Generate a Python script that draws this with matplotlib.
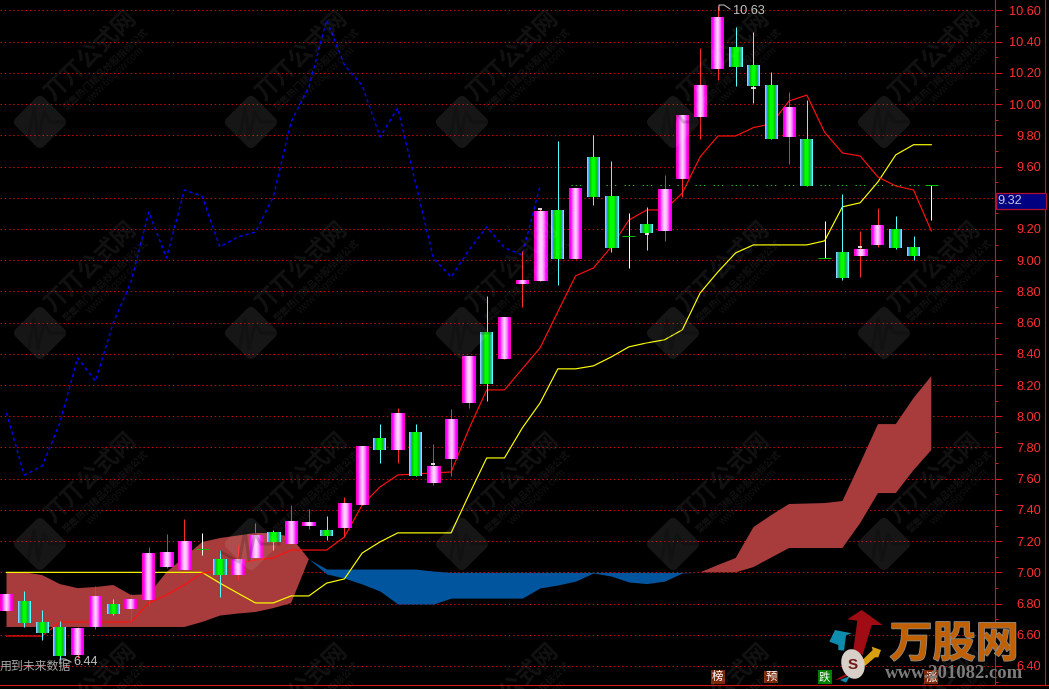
import numpy as np
import matplotlib
matplotlib.use('Agg')
import matplotlib.pyplot as plt
import matplotlib.patches as mpatches
import matplotlib.patheffects as pe
from matplotlib.colors import to_rgb
from matplotlib.ticker import MultipleLocator, FixedLocator
from matplotlib.transforms import Affine2D

# candles
body_top = [6.861, 6.816, 6.682, 6.650, 6.638, 6.848, 6.797, 6.829, 7.117, 7.130, 7.200, 7.147, 7.080, 7.080,
            7.233, 7.253, 7.322, 7.322, 7.270, 7.438, 7.808, 7.860, 8.020, 7.900, 7.680, 7.980, 8.380, 8.540,
            8.630, 8.870, 9.315, 9.320, 9.460, 9.655, 9.410, 9.155, 9.230, 9.455, 9.925, 10.120, 10.552,
            10.365, 10.245, 10.120, 9.980, 9.775, 9.015, 9.050, 9.070, 9.225, 9.200, 9.085, 9.485]
body_bot = [6.754, 6.677, 6.613, 6.466, 6.470, 6.651, 6.733, 6.765, 6.822, 7.034, 7.015, 7.147, 6.983, 6.983,
            7.090, 7.195, 7.180, 7.297, 7.233, 7.284, 7.430, 7.784, 7.784, 7.620, 7.575, 7.726, 8.085, 8.210,
            8.366, 8.845, 8.870, 9.007, 9.007, 9.405, 9.080, 9.155, 9.175, 9.190, 9.520, 9.917, 10.225,
            10.240, 10.115, 9.775, 9.790, 9.475, 9.015, 8.885, 9.030, 9.100, 9.080, 9.030, 9.485]
high = [6.861, 6.880, 6.758, 6.688, 6.652, 6.912, 6.830, 6.861, 7.160, 7.245, 7.340, 7.250, 7.143, 7.175,
        7.316, 7.270, 7.433, 7.405, 7.360, 7.483, 7.808, 7.950, 8.050, 7.950, 7.820, 8.045, 8.380, 8.770,
        8.630, 9.060, 9.330, 9.765, 9.460, 9.800, 9.635, 9.300, 9.340, 9.545, 9.925, 10.360, 10.630,
        10.495, 10.465, 10.205, 10.080, 10.025, 9.250, 9.425, 9.190, 9.335, 9.285, 9.155, 9.485]
low = [6.754, 6.651, 6.568, 6.440, 6.450, 6.639, 6.727, 6.688, 6.790, 7.030, 7.015, 7.110, 6.844, 6.957,
       7.090, 7.143, 7.180, 7.278, 7.207, 7.227, 7.430, 7.700, 7.700, 7.620, 7.560, 7.620, 8.050, 8.100,
       8.366, 8.700, 8.870, 8.840, 9.007, 9.355, 9.055, 8.950, 9.065, 9.125, 9.405, 9.775, 10.155,
       10.115, 10.005, 9.775, 9.615, 9.475, 9.015, 8.875, 8.890, 9.085, 9.070, 9.000, 9.255]
# 1 up (pink), -1 down (green), 0 doji
kind = [1, -1, -1, -1, 1, 1, -1, 1, 1, 1, 1, 0, -1, 1, 1, -1, 1, 1, -1, 1, 1, -1, 1, -1, 1, 1, 1, -1,
        1, 1, 1, -1, 1, -1, -1, 0, -1, 1, 1, 1, 1, -1, -1, -1, 1, -1, 0, -1, 1, 1, -1, -1, 0]

red_line = [6.592, 6.592, 6.592, 6.682, 6.682, 6.682, 6.682, 6.682, 6.804, 6.855, 6.920, 6.996, 7.008, 7.060,
            7.079, 7.092, 7.143, 7.143, 7.143, 7.227, 7.432, 7.547, 7.624, 7.630, 7.637, 7.643, 7.919, 8.169,
            8.169, 8.304, 8.438, 8.670, 8.900, 8.950, 9.085, 9.258, 9.322, 9.322, 9.431, 9.662, 9.796,
            9.796, 9.850, 9.873, 10.020, 10.058, 9.820, 9.687, 9.668, 9.533, 9.476, 9.450, 9.187]
yellow_line = [7.0, 7.0, 7.0, 7.0, 7.0, 7.0, 7.0, 7.0, 7.0, 7.0, 7.0, 7.0, 6.931, 6.867, 6.804, 6.804, 6.849,
               6.849, 6.931, 6.958, 7.124, 7.195, 7.253, 7.253, 7.253, 7.253, 7.496, 7.733, 7.733, 7.925,
               8.085, 8.304, 8.304, 8.323, 8.380, 8.445, 8.470, 8.490, 8.554, 8.790, 8.925, 9.047, 9.098,
               9.098, 9.098, 9.098, 9.124, 9.342, 9.368, 9.502, 9.675, 9.740, 9.740]
blue_line = [8.021, 7.623, 7.681, 7.957, 8.374, 8.226, 8.598, 8.860, 9.309, 9.014, 9.450, 9.410, 9.085, 9.149,
             9.180, 9.405, 9.886, 10.110, 10.540, 10.250, 10.120, 9.790, 9.975, 9.495, 9.014, 8.892, 9.065,
             9.213, 9.080, 9.034, 9.476]
span_a = [7.0, 7.0, 6.983, 6.925, 6.899, 6.906, 6.919, 6.855, 6.861, 7.002, 7.098, 7.194, 7.220, 7.236, 7.252,
          7.252, 7.226, 7.085, 6.990, 6.963, 6.925, 6.880, 6.797, 6.797, 6.797, 6.835, 6.835, 6.835, 6.835,
          6.835, 6.900, 6.919, 6.944, 6.996, 6.976, 6.938, 6.928, 6.944, 6.996, 7.0, 7.047, 7.092, 7.290,
          7.367, 7.438, 7.441, 7.444, 7.457, 7.700, 7.950, 7.950, 8.117, 8.258]
span_b = [6.65, 6.65, 6.65, 6.65, 6.65, 6.65, 6.65, 6.65, 6.65, 6.65, 6.65, 6.682, 6.723, 6.736, 6.746, 6.771,
          6.803, 7.085, 7.021, 7.021, 7.021, 7.021, 7.021, 7.021, 7.008, 7.0, 7.0, 7.0, 7.0, 7.0, 7.0, 7.0,
          7.0, 7.0, 7.0, 7.0, 7.0, 7.0, 7.0, 7.0, 7.0, 7.0, 7.034, 7.095, 7.156, 7.156, 7.156, 7.156, 7.316,
          7.508, 7.508, 7.655, 7.784]

# small white caps on some candles
cap_idx = [24, 30, 36, 42, 48]
cap_val = [7.695, 9.330, 9.165, 10.105, 9.085]
ref_level = 9.48
ref_idx = list(range(32, 52))
signal_idx = [40, 43, 46, 52]
signal_txt = ['榜', '预', '跌', '涨']
signal_bg = ['#7A2808', '#7A2808', '#008000', '#7A2808']

W, H = 1049, 689
PINK = ['#FF00C0', '#FF00FF', '#FF20FF', '#FF60FF', '#FF90FF', '#FFB8FF', '#FFD0FF',
        '#FFB8FF', '#FF90FF', '#FF60FF', '#FF20FF', '#FF00FF', '#FF00C0']
GREEN = ['#7FD4FF', '#55AAFF', '#2BAA7F', '#00D000', '#00E800', '#00FF00', '#00FF00',
         '#00FF00', '#00E800', '#00D000', '#2BAA7F', '#55AAFF', '#55FFFF']
AXRED = '#D01818'
LABEL = '#FF3030'
CJK = ['Noto Sans CJK SC', 'DejaVu Sans']
LW = 0.72

plt.rcParams['font.family'] = ['Liberation Sans', 'DejaVu Sans']

fig = plt.figure(figsize=(W / 100, H / 100), dpi=100, facecolor='black')
ax = fig.add_axes([0, 4 / H, 995 / W, (H - 4) / H], facecolor='black')
idx = np.arange(len(kind))
idx_a = np.arange(len(span_a))
a = np.array(span_a)
b = np.array(span_b)

# price grid
for p in np.arange(6.4, 10.61, 0.2):
    ax.axhline(p, color='#D00000', lw=LW, ls=(0, (1.5, 2.7)), zorder=1)

# the cloud
ax.fill_between(idx_a, a, b, where=a >= b, color='#A83C3C', lw=0, zorder=2)
ax.fill_between(idx_a, a, b, where=a <= b, color='#00559F', lw=0, zorder=2)

# lines
ax.plot(np.arange(len(blue_line)), blue_line, color='#0000FF', lw=1.0, ls=(0, (2.4, 2.2)), zorder=3)
ax.plot(idx, yellow_line, color='#FFFF00', lw=0.85, zorder=5)
ax.plot(idx, red_line, color='#FF1010', lw=0.85, zorder=5)

# candles
pink_img = np.array([[to_rgb(c) for c in PINK]])
green_img = np.array([[to_rgb(c) for c in GREEN]])
w = 13 / 17.785
for i, k in enumerate(kind):
    if k == 0:
        ax.vlines(i, low[i], high[i], color='white', lw=LW, zorder=6)
        ax.hlines(body_top[i], i - w / 2, i + w / 2, color='#00C000', lw=LW, zorder=7)
        continue
    ax.vlines(i, low[i], high[i], color='#FF2828' if k > 0 else '#55FFFF', lw=LW, zorder=6)
    ax.imshow(pink_img if k > 0 else green_img, extent=(i - w / 2, i + w / 2, body_bot[i], body_top[i]),
              aspect='auto', interpolation='nearest', zorder=7)
for i, v in zip(cap_idx, cap_val):
    ax.hlines(v, i - 0.12, i + 0.12, color='white', lw=1.2, zorder=8)
ax.hlines([ref_level] * len(ref_idx), np.array(ref_idx) - 0.28, np.array(ref_idx) + 0.28,
          color='#20C020', lw=LW, ls=(0, (1.4, 2.8)), zorder=4)

ax.set_xlim(-6.5 / 17.785, (995 - 6.5) / 17.785)
ax.set_ylim(10.60 - 674.5 / 156.07, 10.60 + 10.5 / 156.07)
ax.set_aspect('auto')

# price axis on the right
ax.yaxis.tick_right()
ax.yaxis.set_major_locator(FixedLocator(np.arange(6.4, 10.61, 0.2)))
ax.yaxis.set_minor_locator(MultipleLocator(0.1))
ax.set_yticklabels(['%.2f' % p for p in np.arange(6.4, 10.61, 0.2)], ha='right', fontsize=9.2, color=LABEL)
ax.tick_params(axis='y', which='major', length=4.8, width=LW, color=AXRED, pad=28.5)
ax.tick_params(axis='y', which='minor', length=2.2, width=LW, color=AXRED)
ax.set_xticks([])
for s in ['left', 'top']:
    ax.spines[s].set_visible(False)
for s in ['right', 'bottom']:
    ax.spines[s].set_color(AXRED)
    ax.spines[s].set_linewidth(0.8)

# signal badges along the bottom
for i, txt, bg in zip(signal_idx, signal_txt, signal_bg):
    ax.text(i, 6.33, txt, family=CJK, fontsize=8.2, color='white', ha='center', va='center', zorder=9,
            bbox=dict(boxstyle='square,pad=0.12', fc=bg, ec='none'))

# overlay in pixel coordinates, for everything that is not price data
ov = fig.add_axes([0, 0, 1, 1], facecolor='none')
ov.set_xlim(0, W)
ov.set_ylim(H, 0)
ov.axis('off')

ov.plot([995, W], [685, 685], color=AXRED, lw=0.8)
ov.plot([1045, 1045], [0, 685], color=AXRED, lw=0.8)
ov.add_patch(mpatches.Rectangle((995.5, 193), 50, 16, fc='#000080', ec='#B01030', lw=0.9, zorder=6))
ov.text(997, 201.5, '9.32', color='#C8C8E0', fontsize=9.2, ha='left', va='center', zorder=7)

GREY = '#C4C4C4'
ov.text(733, 10.5, '10.63', color=GREY, fontsize=9.2, ha='left', va='center')
ov.plot([719, 719, 724, 730], [10, 5, 5, 9], color=GREY, lw=LW)
ov.text(73, 662, '6.44', color=GREY, fontsize=9.2, ha='left', va='center')
ov.plot([60, 60, 65, 71], [664, 659, 659, 662], color=GREY, lw=LW)
ov.text(0, 666, '用到未来数据', color='#A8A8A8', family=CJK, fontsize=8.6, ha='left', va='center')

# watermark grid
for cx in [40, 251, 462, 673, 884]:
    for cy in [122, 333, 544, 755]:
        tr = Affine2D().rotate_deg_around(cx, cy, 45) + ov.transData
        ov.add_patch(mpatches.FancyBboxPatch((cx - 20, cy - 20), 40, 40, boxstyle='round,pad=0,rounding_size=6',
                                             fc='white', ec='none', alpha=0.09, transform=tr, zorder=10))
        ov.plot(np.array([-30, -12, -6, -2, 4, 10, 28]) + cx, np.array([8, 18, -14, 16, -10, 0, 0]) + cy,
                color='black', alpha=0.18, lw=2.2, zorder=11)
        ov.text(cx + 50, cy - 67, '丌丌公式网', family=CJK, weight='bold', fontsize=17, color='white', alpha=0.075,
                rotation=44, ha='center', va='center', rotation_mode='anchor', zorder=10)
        ov.text(cx + 66, cy - 53, '聚集热门精品炒股指标公式', family=CJK, weight='bold', fontsize=6.8, color='white',
                alpha=0.075, rotation=44, ha='center', va='center', rotation_mode='anchor', zorder=10)
        ov.text(cx + 75, cy - 47, 'www.66gsw.com', fontsize=7.4, color='white', alpha=0.075,
                rotation=44, ha='center', va='center', rotation_mode='anchor', zorder=10)

# site logo, bottom right
def lz(points):
    return [(820 + x / 3, 600 + y / 3) for x, y in points]

ov.add_patch(mpatches.Polygon(lz([(125, 30), (188, 75), (155, 75), (128, 165), (100, 150), (112, 62), (82, 58)]),
                              fc='#A00C14', ec='none', zorder=12))
ov.add_patch(mpatches.Polygon(lz([(28, 125), (45, 90), (95, 100), (78, 106), (72, 152), (55, 150), (55, 135)]),
                              fc='#0E8CB0', ec='none', zorder=12))
ov.add_patch(mpatches.Polygon(lz([(183, 150), (155, 140), (158, 150), (122, 185), (135, 198), (165, 172), (175, 172)]),
                              fc='#D8A010', ec='none', zorder=12))
ov.add_patch(mpatches.Polygon(lz([(45, 240), (78, 222), (85, 226), (60, 238)]), fc='#A00C14', ec='none', zorder=12))
ov.add_patch(mpatches.Polygon(lz([(60, 240), (90, 228), (78, 248)]), fc='#0E8CB0', ec='none', zorder=12))
ov.add_patch(mpatches.Ellipse((853, 664), 23, 30, angle=-15, fc='#D8D0C8', ec='none', zorder=13))
ov.text(853, 665, 'S', color='#701818', fontsize=11, weight='bold', ha='center', va='center', zorder=14)
ov.text(954, 644, '万股网', family=CJK, weight='bold', fontsize=31, color='#C06000', ha='center', va='center', zorder=13,
        path_effects=[pe.withStroke(linewidth=1.2, foreground='#8C8C8C')])
ov.text(954, 673, 'www.201082.com', family='Liberation Serif', weight='bold', fontsize=13.5, color='#7C7C7C',
        ha='center', va='center', zorder=14)

fig.savefig('out.png', dpi=100, facecolor='black')
